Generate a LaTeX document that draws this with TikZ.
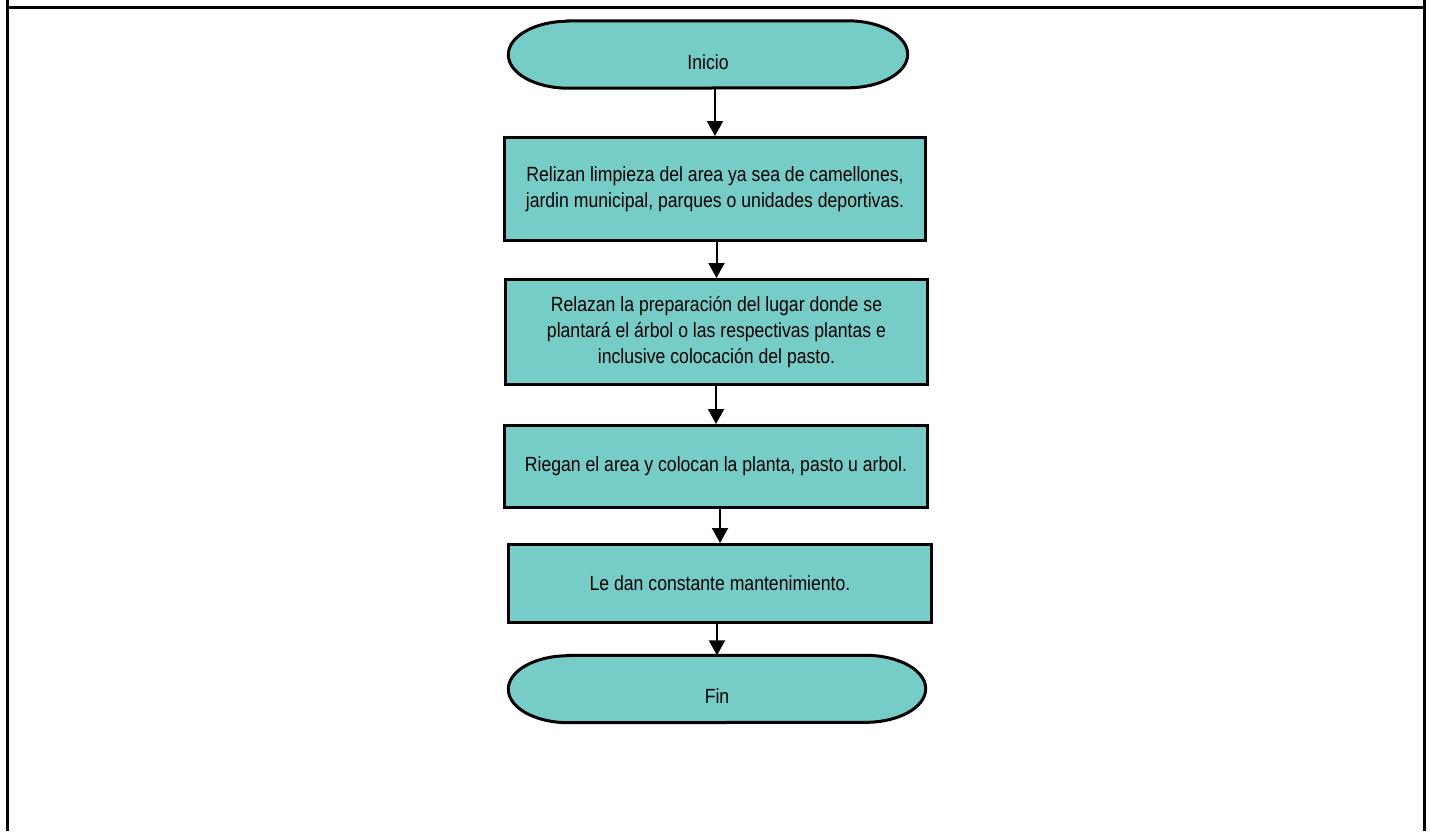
\documentclass[tikz,border=0pt]{standalone}
\usepackage{fontspec}
\setmainfont[FakeStretch=0.86]{Liberation Sans}
\usepackage{tikz}
\usetikzlibrary{arrows.meta,backgrounds}
\definecolor{boxfill}{HTML}{76CDC7}
\tikzset{textfont/.style={font=\fontsize{20.5}{26}\selectfont},process/.style={textfont,draw,line width=3pt,fill=boxfill,align=center,inner sep=0pt},terminal/.style={textfont,inner sep=0pt,minimum width=399pt,text height=48.3pt,text depth=18.7pt},terminal shape/.style={draw,line width=3pt,fill=boxfill},flow/.style={-{Triangle[length=15pt,width=16pt]},line width=2pt},frame line/.style={line width=3pt}}

\begin{document}
\begin{tikzpicture}[x=1pt,y=-1pt]
 \useasboundingbox (0,0) rectangle (1430,831);
 \draw[frame line] (7,0)--(7,831) (1424.5,0)--(1424.5,831) (7,7.5)--(1424.5,7.5);
 \node[terminal] (ini) at (708,54.5) {Inicio};
 \node[process,minimum width=421pt,minimum height=103pt] (b1) at (715,189) {Relizan limpieza del area ya sea de camellones,\\jardin municipal, parques o unidades deportivas.};
 \node[process,minimum width=422pt,minimum height=105pt] (b2) at (716.5,332) {Relazan la preparación del lugar donde se\\plantará el árbol o las respectivas plantas e\\inclusive colocación del pasto.};
 \node[process,minimum width=423pt,minimum height=82pt] (b3) at (716,466.5) {Riegan el area y colocan la planta, pasto u arbol.};
 \node[process,minimum width=423pt,minimum height=78pt] (b4) at (720,583.5) {Le dan constante mantenimiento.};
 \node[terminal,minimum width=417pt] (fin) at (717,689) {Fin};
 \begin{scope}[on background layer]
   \foreach \t in {ini,fin}
     \draw[terminal shape] ([xshift=60pt]\t.north west) -- ([xshift=-60pt]\t.north east) arc[start angle=90,end angle=-90,x radius=60pt,y radius=33.5pt] -- ([xshift=60pt]\t.south west) arc[start angle=270,end angle=90,x radius=60pt,y radius=33.5pt] -- cycle;
 \end{scope}
 \foreach \a/\b in {ini/b1,b1/b2,b2/b3,b3/b4,b4/fin}
   \draw[flow] (\b.north |- \a.south) -- (\b.north);
\end{tikzpicture}
\end{document}
